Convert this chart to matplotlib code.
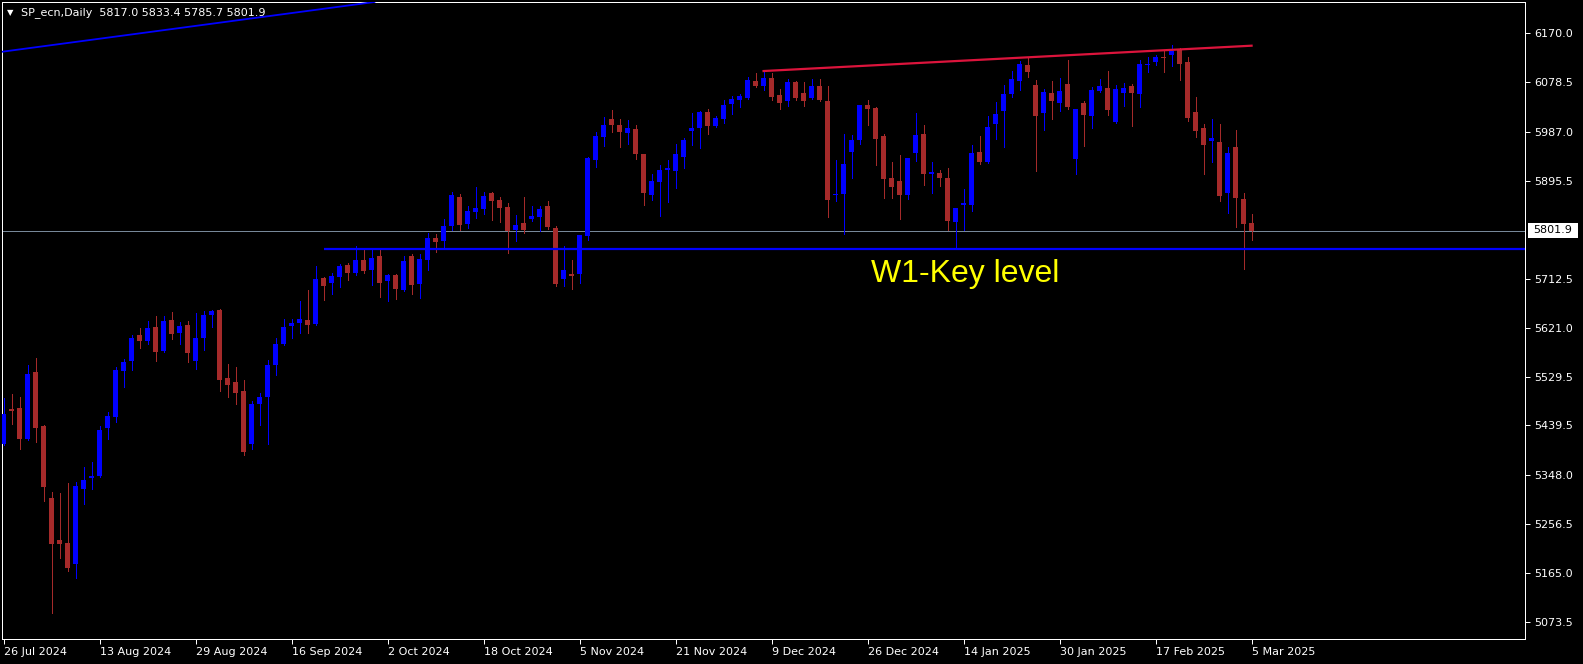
import numpy as np
import pandas as pd
import matplotlib
matplotlib.use("Agg")
import matplotlib.pyplot as plt
from matplotlib.patches import Rectangle
from matplotlib.transforms import blended_transform_factory

# ---------------- data ----------------
dates = pd.bdate_range("2024-07-26", "2025-03-05")
dates = dates[~dates.isin(pd.to_datetime(["2024-12-25", "2025-01-01"]))]

opens = [5405.4, 5470.0, 5471.9, 5414.1, 5539.0, 5438.4, 5304.2, 5226.1, 5220.5, 5181.4,
         5321.0, 5341.5, 5345.2, 5434.6, 5455.1, 5540.8, 5559.5, 5607.9, 5596.7, 5622.8,
         5578.1, 5635.8, 5611.6, 5626.5, 5559.5, 5602.3, 5645.2, 5654.5, 5527.8, 5520.4,
         5503.6, 5404.8, 5479.3, 5492.4, 5552.0, 5591.1, 5624.7, 5630.2, 5635.8, 5628.4,
         5714.1, 5704.8, 5715.9, 5738.3, 5724.1, 5747.6, 5729.7, 5755.1, 5708.5, 5719.7,
         5691.7, 5755.1, 5703.0, 5747.6, 5788.6, 5783.0, 5811.0, 5864.9, 5814.7, 5837.1,
         5842.6, 5872.5, 5859.4, 5846.4, 5803.5, 5816.6, 5824.0, 5827.8, 5848.2, 5807.3,
         5712.2, 5721.5, 5721.5, 5792.4, 5933.9, 5976.8, 6010.3, 5999.1, 5984.3, 5991.7,
         5945.1, 5868.6, 5893.3, 5915.3, 5913.4, 5939.5, 5987.9, 5993.5, 6023.4, 5997.3,
         6010.3, 6038.3, 6045.7, 6049.4, 6081.1, 6071.8, 6086.7, 6055.0, 6043.8, 6079.2,
         6058.7, 6049.4, 6071.8, 6043.8, 5868.6, 5870.5, 5948.8, 5971.2, 6036.4, 6030.8,
         5978.6, 5900.8, 5894.8, 5868.6, 5947.0, 5982.4, 5907.9, 5909.7, 5900.8, 5818.4,
         5850.1, 5850.1, 5948.8, 5930.2, 6001.0, 6025.2, 6056.9, 6081.1, 6110.9, 6073.7,
         6021.5, 6058.7, 6040.1, 6075.5, 5935.8, 6040.1, 6016.6, 6062.5, 6068.1, 6004.7,
         6058.7, 6071.8, 6056.9, 6111.5, 6116.5, 6125.8, 6129.5, 6140.7, 6116.5, 6023.4,
         5993.5, 5969.3, 5967.5, 5872.5, 5958.2, 5861.3, 5817.0]

highs = [5490.0, 5498.0, 5492.4, 5552.0, 5565.1, 5440.2, 5315.4, 5313.5, 5332.2, 5334.0,
         5362.0, 5371.3, 5438.4, 5464.4, 5548.3, 5563.2, 5607.9, 5620.9, 5634.0, 5643.3,
         5643.3, 5650.7, 5632.1, 5634.0, 5648.9, 5652.6, 5654.5, 5656.3, 5553.9, 5548.3,
         5524.1, 5484.9, 5499.9, 5561.3, 5602.3, 5637.7, 5637.7, 5671.2, 5691.7, 5736.4,
         5715.9, 5724.1, 5740.1, 5742.0, 5773.7, 5766.3, 5766.3, 5766.3, 5721.5, 5721.5,
         5755.1, 5758.8, 5758.8, 5797.9, 5796.1, 5824.0, 5874.3, 5870.5, 5848.2, 5883.6,
         5874.3, 5874.3, 5864.9, 5853.8, 5831.4, 5864.9, 5848.2, 5848.2, 5857.6, 5811.0,
         5773.7, 5747.6, 5794.2, 5939.5, 5986.1, 6014.7, 6027.1, 6010.3, 6008.5, 5999.1,
         5946.0, 5907.9, 5924.6, 5933.9, 5963.7, 5974.9, 6021.5, 6025.2, 6028.9, 6016.6,
         6045.7, 6053.2, 6056.9, 6088.6, 6096.0, 6099.7, 6096.0, 6066.2, 6084.8, 6081.1,
         6079.2, 6084.8, 6084.8, 6071.8, 5933.9, 5982.4, 5980.5, 6036.4, 6045.7, 6032.7,
         5982.4, 5930.2, 5943.3, 5937.7, 6021.5, 5999.1, 5930.2, 5915.3, 5919.0, 5844.5,
         5879.9, 5961.8, 5978.6, 6016.6, 6042.0, 6073.7, 6099.7, 6118.4, 6123.9, 6083.0,
         6066.2, 6081.1, 6086.7, 6120.2, 6028.9, 6043.8, 6069.9, 6084.8, 6099.7, 6073.7,
         6077.4, 6075.5, 6120.2, 6125.8, 6129.5, 6137.0, 6148.2, 6142.6, 6125.8, 6051.3,
         6001.0, 6010.3, 6001.0, 5958.2, 5989.8, 5872.5, 5833.4]

lows = [5403.9, 5442.6, 5395.5, 5412.3, 5408.6, 5298.7, 5090.1, 5192.6, 5168.3, 5155.3,
        5293.1, 5321.0, 5343.3, 5414.1, 5445.8, 5511.0, 5542.7, 5583.7, 5591.1, 5559.5,
        5576.2, 5600.4, 5591.1, 5557.6, 5544.6, 5580.0, 5622.8, 5503.6, 5492.4, 5479.3,
        5384.3, 5395.5, 5440.2, 5404.8, 5533.4, 5589.2, 5602.3, 5611.6, 5611.6, 5626.5,
        5673.1, 5684.3, 5697.3, 5710.3, 5719.7, 5724.1, 5701.1, 5678.7, 5671.2, 5675.0,
        5689.9, 5684.3, 5676.9, 5729.7, 5762.6, 5770.0, 5803.5, 5803.5, 5807.3, 5826.0,
        5833.3, 5822.2, 5818.4, 5760.7, 5783.0, 5798.0, 5820.3, 5801.6, 5805.4, 5699.2,
        5699.2, 5693.6, 5704.8, 5784.9, 5920.9, 5959.9, 5986.1, 5958.2, 5963.7, 5935.8,
        5850.1, 5859.4, 5829.6, 5855.7, 5881.8, 5919.0, 5961.8, 5956.3, 5982.4, 5995.4,
        6002.9, 6019.6, 6032.7, 6047.6, 6069.9, 6064.3, 6045.7, 6028.9, 6034.5, 6045.7,
        6034.5, 6047.6, 6043.8, 5827.8, 5857.6, 5796.1, 5900.4, 5963.7, 5999.1, 5924.6,
        5863.1, 5863.1, 5824.0, 5861.3, 5932.1, 5887.4, 5872.5, 5885.5, 5803.5, 5770.0,
        5803.5, 5838.9, 5926.5, 5928.3, 5973.1, 5958.2, 6051.3, 6064.3, 6088.6, 5913.4,
        5989.9, 6010.3, 6025.2, 6028.9, 5907.9, 5960.0, 5993.5, 6060.6, 6017.8, 6002.9,
        6034.5, 5997.3, 6032.7, 6097.9, 6110.9, 6097.9, 6109.0, 6083.0, 6006.6, 5976.8,
        5907.9, 5930.2, 5857.6, 5835.2, 5809.1, 5730.9, 5785.7]

closes = [5460.7, 5466.9, 5414.1, 5535.2, 5434.6, 5324.7, 5218.6, 5218.6, 5173.9, 5326.6,
          5337.8, 5345.2, 5430.9, 5457.0, 5542.7, 5557.6, 5602.3, 5596.7, 5620.9, 5576.2,
          5634.0, 5609.8, 5624.7, 5574.3, 5602.3, 5645.2, 5652.6, 5524.1, 5514.8, 5499.9,
          5389.9, 5479.3, 5492.4, 5552.0, 5591.1, 5622.8, 5630.2, 5637.7, 5626.5, 5712.2,
          5699.2, 5717.8, 5736.4, 5724.1, 5747.6, 5727.8, 5751.4, 5704.8, 5719.7, 5693.6,
          5745.8, 5701.1, 5749.5, 5788.6, 5781.2, 5811.0, 5868.6, 5812.8, 5838.9, 5844.5,
          5866.8, 5857.6, 5844.5, 5801.6, 5812.8, 5803.5, 5829.6, 5842.6, 5809.1, 5703.0,
          5729.7, 5717.8, 5794.2, 5937.7, 5978.6, 5999.1, 5999.1, 5986.1, 5993.5, 5945.1,
          5872.5, 5895.2, 5915.3, 5919.0, 5945.1, 5971.2, 5993.5, 6023.4, 5997.3, 6012.2,
          6036.4, 6047.6, 6053.2, 6083.0, 6071.8, 6086.7, 6051.3, 6040.1, 6079.2, 6049.4,
          6043.8, 6071.8, 6045.7, 5859.4, 5870.5, 5926.5, 5971.2, 6036.4, 6028.9, 5973.1,
          5898.9, 5883.6, 5868.6, 5937.7, 5980.5, 5907.9, 5911.6, 5900.8, 5820.3, 5844.5,
          5853.8, 5947.0, 5930.2, 5995.4, 6019.6, 6056.9, 6084.8, 6112.8, 6097.9, 6016.6,
          6060.6, 6043.8, 6062.5, 6032.7, 6028.9, 6017.8, 6064.3, 6071.8, 6027.1, 6066.2,
          6068.1, 6058.7, 6112.8, 6112.8, 6125.8, 6124.5, 6137.0, 6112.8, 6012.2, 5987.9,
          5961.8, 5974.9, 5866.8, 5947.0, 5863.1, 5814.7, 5801.9]

price_ticks = [6170.0, 6078.5, 5987.0, 5895.5, 5712.5, 5621.0, 5529.5, 5439.5,
               5348.0, 5256.5, 5165.0, 5073.5]
current_price = 5801.9
key_level = 5768.0
key_level_start = 40
red_trend = ([95, 156], [6099.7, 6146.9])
blue_trend = ((0, 6136.0), (45, 6225.6))
title_text = "SP_ecn,Daily  5817.0 5833.4 5785.7 5801.9"
label_text = "W1-Key level"
label_pos = (108.4, 5707.2)

# ---------------- figure ----------------
W, H = 1583, 664
fig = plt.figure(figsize=(W / 100, H / 100), dpi=100, facecolor="black")
ax = fig.add_axes([2 / W, 25 / H, 1523 / W, 637 / H], facecolor="black")

n = len(opens)
x = np.arange(n)
o = np.array(opens); h = np.array(highs); l = np.array(lows); c = np.array(closes)
bull = c >= o
cols = np.where(bull, "#0000FF", "#A52A2A")

px = 0.72  # 1 pixel in points
ax.vlines(x, l, h, colors=cols, linewidth=px, antialiased=False, zorder=3)
bottoms = np.minimum(o, c)
heights = np.maximum(np.abs(c - o), 1.3)
ax.bar(x, heights, bottom=bottoms, width=0.625, color=cols, linewidth=0,
       antialiased=False, zorder=4)

# lines
ax.axhline(current_price, color="#778899", linewidth=px, zorder=2)
ax.hlines(key_level, key_level_start, 400, color="#0000FF", linewidth=1.6, zorder=5)
ax.plot(red_trend[0], red_trend[1], color="#DC143C", linewidth=1.6, zorder=5)
ax.axline(blue_trend[0], blue_trend[1], color="#0000FF", linewidth=1.3, zorder=5)

ax.text(label_pos[0], label_pos[1], label_text, color="#FFFF00", fontsize=23,
        family="Liberation Sans", ha="left", va="baseline", zorder=6)

# axes
ax.set_xlim(-0.2, 190.18)
ax.set_ylim(5041.6, 6228.3)
for s in ax.spines.values():
    s.set_color("white")
    s.set_linewidth(px)

ax.yaxis.tick_right()
ax.set_yticks(price_ticks)
ax.set_yticklabels([f"{v:.1f}" for v in price_ticks])
ax.tick_params(axis="y", colors="white", labelcolor="white", labelsize=8,
               length=3.5, width=px, pad=3)

xt = list(range(0, n, 12))
ax.set_xticks(xt)
ax.set_xticklabels([f"{dates[i].day} {dates[i].strftime('%b %Y')}" for i in xt])
ax.tick_params(axis="x", colors="white", labelcolor="white", labelsize=8,
               length=3.5, width=px, pad=2)
for lbl in ax.get_xticklabels():
    lbl.set_ha("left")

# current price box on axis
tr = blended_transform_factory(fig.transFigure, ax.transData)
ax.add_patch(Rectangle((1527.5 / W, current_price - 13.5), 50 / W, 27.5,
                       transform=tr, facecolor="white", edgecolor="none",
                       clip_on=False, zorder=10))
ax.text(1552.5 / W, current_price + 1.0, f"{current_price:.1f}", transform=tr,
        color="black", fontsize=8, ha="center", va="center", clip_on=False, zorder=11)

# title
fig.text(7 / W, 1 - 12.5 / H, "\u25BC", color="white", fontsize=6, va="center", ha="left")
fig.text(21 / W, 1 - 12.5 / H, title_text, color="white", fontsize=8, va="center", ha="left")

fig.savefig("out.png", dpi=100, facecolor="black")
